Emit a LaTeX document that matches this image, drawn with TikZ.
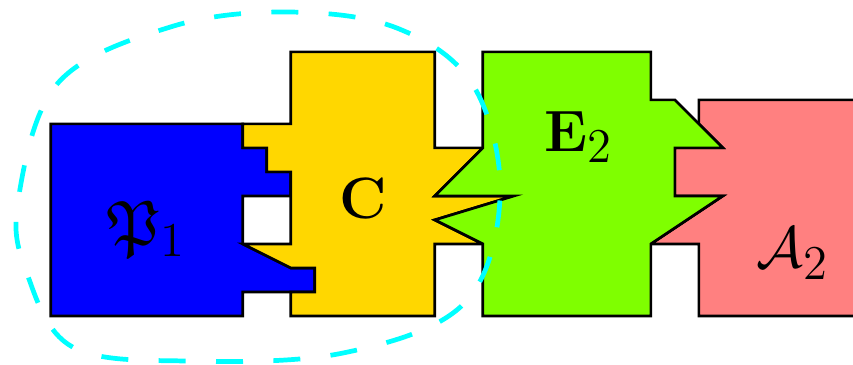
\documentclass[tikz,border=0pt]{standalone}
\usepackage{amssymb}
\usepackage{xcolor}
\usepackage{tikz}

\definecolor{blueP}{RGB}{0,0,255}
\definecolor{goldC}{RGB}{255,215,0}
\definecolor{greenE}{RGB}{127,255,0}
\definecolor{pinkA}{RGB}{255,128,128}
\definecolor{cyanR}{RGB}{0,255,255}

\begin{document}
\begin{tikzpicture}[x=0.5cm,y=0.5cm,
  piece/.style={draw=black,line width=0.8pt,line join=miter},
  lbl/.style={font=\fontsize{19}{23}\selectfont,inner sep=0pt}
]
\useasboundingbox (-1.056,-1.02) rectangle (16.71,6.58);
\clip (-1.056,-1.02) rectangle (16.71,6.58);
% pieces
\draw[piece,fill=blueP] (0,0) -- (4,0) -- (4,0.5) -- (5.5,0.5) -- (5.5,1) -- (5,1) -- (4,1.5)
  -- (4,2.5) -- (5,2.5) -- (5,3) -- (4.5,3) -- (4.5,3.5) -- (4,3.5) -- (4,4) -- (0,4) -- cycle;
\draw[piece,fill=goldC] (5,0) -- (5,0.5) -- (5.5,0.5) -- (5.5,1) -- (5,1) -- (4,1.5) -- (5,1.5)
  -- (5,3) -- (4.5,3) -- (4.5,3.5) -- (4,3.5) -- (4,4) -- (5,4) -- (5,5.5) -- (8,5.5)
  -- (8,3.5) -- (9,3.5) -- (8,2.5) -- (9.65,2.5) -- (8,2) -- (9,1.5) -- (8,1.5) -- (8,0) -- cycle;
\draw[piece,fill=pinkA] (13.5,0) -- (13.5,1.5) -- (12.5,1.5) -- (14,2.5) -- (13,2.5) -- (13,3.5)
  -- (14,3.5) -- (13.5,4) -- (13.5,4.5) -- (17.5,4.5) -- (17.5,0) -- cycle;
\draw[piece,fill=greenE] (9,0) -- (9,1.5) -- (8,2) -- (9.65,2.5) -- (8,2.5) -- (9,3.5) -- (9,5.5)
  -- (12.5,5.5) -- (12.5,4.5) -- (13,4.5) -- (14,3.5) -- (13,3.5) -- (13,2.5) -- (14,2.5)
  -- (12.5,1.5) -- (12.5,0) -- cycle;
% labels
\node[lbl] (lp) at (2,1.8) {$\mathfrak{P}_1$};
\node[lbl] (lc) at (6.5,2.45) {$\mathbf{C}$};
\node[lbl] (le) at (11,3.72) {$\mathbf{E}_2$};
\node[lbl] (la) at (15.45,1.3) {$\mathcal{A}_2$};
% region
\draw[cyanR,line width=1.4pt,dash pattern=on 8pt off 9pt] plot[smooth cycle,tension=0.6] coordinates {
  (-0.68,2.4) (0.15,4.85) (2.5,6.02) (4.9,6.33) (7.2,6.0) (8.8,4.8) (9.36,2.5)
  (8.6,0.25) (6.1,-0.77) (2.9,-0.94) (0.46,-0.65) (-0.5,0.9)};
\end{tikzpicture}
\end{document}
